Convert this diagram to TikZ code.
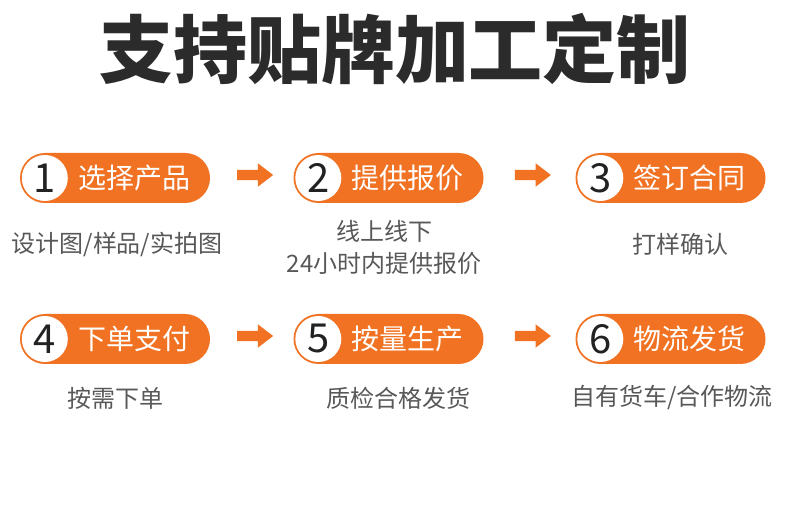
\documentclass[tikz,border=0pt]{standalone}
\usepackage{fontspec}
\setmainfont{Noto Sans CJK SC}
\usetikzlibrary{positioning,calc,shapes.arrows}
\definecolor{stepc}{RGB}{240,114,34}
\definecolor{titlec}{RGB}{43,43,43}
\definecolor{descc}{RGB}{88,88,88}
\definecolor{digitc}{RGB}{34,34,34}

\begin{document}
\begin{tikzpicture}[x=1pt,y=-1pt,
  pill/.style={fill=stepc,minimum width=190pt,minimum height=50pt,rounded corners=25pt,inner sep=0},
  numdot/.style={circle,fill=white,minimum size=46pt,inner sep=0,text=digitc,font=\fontsize{40}{40}\selectfont},
  steptext/.style={text=white,inner sep=0,anchor=west,font=\fontsize{28}{28}\selectfont},
  desc/.style={text=descc,inner sep=0,align=center,font=\fontsize{24}{32}\selectfont},
  flowarrow/.style={single arrow,fill=stepc,inner xsep=0,inner ysep=5pt,minimum height=36pt,
    single arrow head extend=6.5pt,single arrow tip angle=75,single arrow head indent=0pt}]
  \useasboundingbox (0,0) rectangle (790,510);

  % title
  \node[text=titlec,font=\fontsize{74}{74}\selectfont\bfseries] (title) at (395,49) {支持贴牌加工定制};

  % first row
  \node[pill] (p1) at (115,178) {};
  \node[pill] (p2) at (388.5,178) {};
  \node[pill] (p3) at (670.5,178) {};
  \node[numdot] (n1) at ([xshift=25pt]p1.west) {1};
  \node[numdot] (n2) at ([xshift=25pt]p2.west) {2};
  \node[numdot] (n3) at ([xshift=25pt]p3.west) {3};
  \node[steptext,right=10pt of n1] (t1) {选择产品};
  \node[steptext,right=10pt of n2] (t2) {提供报价};
  \node[steptext,right=10pt of n3] (t3) {签订合同};
  \node[flowarrow] (a12) at ($(p1.east)!0.5!(p2.west)+(0,-3)$) {};
  \node[flowarrow] (a23) at ($(p2.east)!0.5!(p3.west)+(0,-3)$) {};

  \node[desc] (d1) at (117,244) {设计图/样品/实拍图};
  \node[desc] (d2) at (384,247) {线上线下\\24小时内提供报价};
  \node[desc] (d3) at (680,244) {打样确认};

  % second row
  \node[pill] (p4) at (115,339) {};
  \node[pill] (p5) at (388.5,339) {};
  \node[pill] (p6) at (670.5,339) {};
  \node[numdot] (n4) at ([xshift=25pt]p4.west) {4};
  \node[numdot] (n5) at ([xshift=25pt]p5.west) {5};
  \node[numdot] (n6) at ([xshift=25pt]p6.west) {6};
  \node[steptext,right=10pt of n4] (t4) {下单支付};
  \node[steptext,right=10pt of n5] (t5) {按量生产};
  \node[steptext,right=10pt of n6] (t6) {物流发货};
  \node[flowarrow] (a45) at ($(p4.east)!0.5!(p5.west)+(0,-3)$) {};
  \node[flowarrow] (a56) at ($(p5.east)!0.5!(p6.west)+(0,-3)$) {};

  \node[desc] (d4) at (115,398) {按需下单};
  \node[desc] (d5) at (398,398) {质检合格发货};
  \node[desc] (d6) at (672,398) {自有货车/合作物流};
\end{tikzpicture}
\end{document}
